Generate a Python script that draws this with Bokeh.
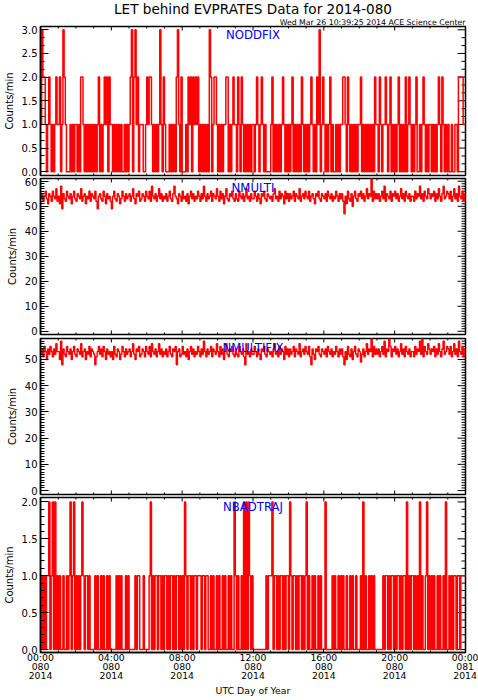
from bokeh.plotting import figure
from bokeh.models import Range1d, LinearAxis, FixedTicker, Label, PrintfTickFormatter, Title
from bokeh.layouts import column
from bokeh.embed import file_html
from bokeh.resources import INLINE

FONT = "DejaVu Sans"

TITLE = "LET behind EVPRATES Data for 2014-080"
SUBTITLE = "Wed Mar 26 10:39:25 2014 ACE Science Center"
PANEL_NAMES = ["NODDFIX", "NMULTI", "NMULTIFIX", "NBADTRAJ"]
Y_LABEL = "Counts/min"
X_LABEL = "UTC Day of Year"
X_TICKS = [0, 4, 8, 12, 16, 20, 24]
X_TICK_LABELS = ["00:00\n080\n2014", "04:00\n080\n2014", "08:00\n080\n2014",
                 "12:00\n080\n2014", "16:00\n080\n2014", "20:00\n080\n2014",
                 "00:00\n081\n2014"]
SAMPLE_MINUTES = 4  # one value per 4 minutes, 15 values per hour row

# NODDFIX counts/min, one string per UTC hour
NODDFIX = [
    "132210121010121", "120132100010101", "101022101010101", "010120101212021",
    "101010101001010", "123023120111001", "212210101013102", "100010101023102",
    "000102120212120", "101010103201221", "010101122010121", "102102101010101",
    "101210121010000", "120101010121010", "101201010102101", "010121010213012",
    "101012010010101", "122102101010101", "120101010101021", "102101121012010",
    "101201010201210", "101200101210101", "101010121021010", "100100110222211",
]

# NMULTI counts/min, one row per UTC hour
NMULTI = [
    [53, 55, 52, 54, 56, 53, 51, 55, 54, 52, 56, 54, 53, 57, 52],
    [54, 51, 58, 49, 55, 53, 52, 56, 54, 53, 55, 51, 54, 56, 53],
    [52, 55, 54, 53, 57, 52, 54, 55, 51, 54, 53, 56, 52, 55, 54],
    [53, 56, 52, 49, 54, 55, 53, 52, 56, 54, 51, 55, 53, 54, 52],
    [49, 54, 56, 53, 52, 55, 54, 51, 53, 56, 54, 52, 55, 53, 54],
    [55, 52, 54, 57, 53, 51, 55, 54, 56, 52, 53, 55, 54, 52, 56],
    [54, 53, 56, 52, 58, 54, 53, 55, 52, 54, 57, 53, 55, 52, 54],
    [53, 55, 52, 54, 56, 53, 52, 55, 58, 54, 53, 51, 55, 54, 52],
    [56, 53, 54, 52, 55, 51, 54, 56, 53, 55, 52, 54, 53, 56, 54],
    [52, 55, 53, 58, 54, 52, 55, 53, 54, 56, 52, 55, 54, 53, 57],
    [54, 52, 56, 53, 55, 51, 54, 57, 53, 52, 55, 54, 56, 53, 52],
    [55, 53, 52, 56, 54, 53, 55, 52, 54, 57, 53, 54, 52, 55, 53],
    [53, 56, 54, 52, 55, 53, 51, 55, 54, 56, 53, 52, 55, 54, 53],
    [54, 52, 55, 57, 53, 54, 52, 56, 53, 55, 54, 51, 56, 53, 55],
    [52, 55, 53, 54, 56, 52, 55, 54, 53, 57, 52, 54, 55, 53, 56],
    [54, 53, 56, 52, 54, 55, 53, 51, 55, 54, 56, 53, 52, 55, 54],
    [53, 55, 52, 56, 54, 53, 55, 52, 54, 53, 56, 54, 52, 55, 53],
    [55, 52, 47, 54, 51, 56, 53, 52, 55, 50, 54, 56, 53, 52, 55],
    [54, 56, 53, 55, 52, 54, 57, 53, 55, 54, 61, 52, 56, 53, 55],
    [53, 55, 52, 54, 56, 53, 58, 52, 55, 54, 53, 56, 52, 55, 54],
    [56, 53, 55, 52, 54, 57, 53, 55, 52, 56, 54, 53, 55, 52, 54],
    [54, 52, 56, 53, 55, 54, 58, 53, 55, 52, 56, 54, 53, 57, 55],
    [53, 55, 54, 56, 52, 55, 53, 57, 54, 52, 55, 58, 53, 54, 56],
    [55, 53, 56, 52, 54, 57, 53, 55, 52, 58, 54, 53, 56, 52, 55],
]

# NMULTIFIX counts/min, one row per UTC hour
NMULTIFIX = [
    [52, 54, 51, 55, 53, 50, 54, 52, 55, 53, 51, 54, 52, 56, 53],
    [53, 50, 57, 48, 54, 52, 51, 55, 53, 52, 54, 50, 53, 55, 52],
    [51, 54, 53, 52, 56, 51, 53, 54, 50, 53, 52, 55, 51, 54, 53],
    [52, 48, 51, 53, 55, 52, 54, 51, 55, 53, 50, 54, 52, 53, 51],
    [53, 50, 55, 52, 51, 54, 53, 50, 52, 55, 53, 51, 54, 52, 53],
    [54, 51, 53, 56, 52, 50, 54, 53, 55, 51, 52, 54, 53, 51, 55],
    [53, 52, 55, 51, 56, 53, 52, 54, 51, 53, 56, 52, 54, 51, 53],
    [52, 54, 51, 53, 55, 52, 51, 54, 53, 55, 48, 53, 54, 51, 52],
    [55, 52, 53, 51, 54, 50, 53, 55, 52, 54, 51, 53, 52, 55, 53],
    [51, 54, 52, 57, 53, 51, 54, 52, 53, 55, 51, 54, 53, 52, 56],
    [53, 51, 55, 52, 54, 50, 53, 56, 52, 51, 54, 53, 55, 52, 51],
    [54, 52, 51, 55, 53, 52, 54, 51, 48, 56, 52, 53, 51, 54, 52],
    [52, 55, 53, 51, 54, 52, 50, 54, 53, 55, 52, 51, 54, 53, 52],
    [53, 51, 54, 56, 52, 53, 51, 55, 52, 54, 53, 50, 55, 52, 54],
    [51, 54, 52, 53, 55, 51, 54, 53, 52, 56, 51, 53, 54, 52, 55],
    [53, 52, 55, 51, 48, 54, 52, 50, 54, 53, 55, 52, 51, 54, 53],
    [52, 54, 51, 55, 53, 52, 54, 51, 53, 52, 55, 53, 51, 54, 52],
    [54, 51, 48, 53, 50, 55, 52, 51, 54, 50, 53, 55, 52, 51, 54],
    [53, 49, 52, 54, 51, 53, 56, 52, 54, 53, 58, 51, 55, 52, 54],
    [52, 54, 51, 53, 55, 52, 57, 51, 54, 53, 58, 55, 51, 54, 53],
    [55, 52, 54, 51, 53, 56, 52, 54, 51, 55, 53, 52, 54, 51, 53],
    [53, 51, 55, 52, 54, 53, 57, 52, 58, 51, 55, 53, 52, 56, 54],
    [52, 54, 53, 55, 51, 54, 52, 56, 53, 51, 54, 57, 52, 53, 55],
    [54, 52, 55, 51, 53, 56, 52, 54, 51, 57, 53, 52, 55, 51, 54],
]

# NBADTRAJ counts/min, one string per UTC hour
NBADTRAJ = [
    "010101120120201", "010010010120120", "101012101101000", "010100101001010",
    "000010101000101", "000001011000100", "001201011011010", "110101101011010",
    "102101101011011", "101101100101001", "010010100101002", "101001020202101",
    "000000000001011", "120110101101011", "021011010110101", "201001010010100",
    "020000010100101", "010010010100100", "010201001010100", "000001011010110",
    "101101011020101", "101010201001201", "010100101001020", "010101101101111",
]


def flat_str(rows):
    return [int(c) for row in rows for c in row]


def flat_int(rows):
    return [v for row in rows for v in row]


def steps(vals):
    xs = [i * SAMPLE_MINUTES / 60.0 for i in range(len(vals))] + [24.0]
    ys = list(vals) + [vals[-1]]
    return xs, ys


def frange(start, stop, step):
    out = []
    k = 0
    while True:
        v = round(start + k * step, 6)
        if v > stop + 1e-9:
            break
        out.append(v)
        k += 1
    return out


X_MINOR = list(range(0, 25))
FRAME_W = 430
BORDER_L = 35
BORDER_R = 13


def style_axis(ax, tick_in, minor_in):
    ax.major_tick_in = tick_in
    ax.major_tick_out = 0
    ax.minor_tick_in = minor_in
    ax.minor_tick_out = 0
    ax.axis_line_color = "black"
    ax.axis_line_width = 1.5
    ax.major_tick_line_color = "black"
    ax.minor_tick_line_color = "black"
    ax.major_tick_line_width = 1
    ax.minor_tick_line_width = 1
    ax.major_label_text_font = FONT
    ax.major_label_text_color = "black"


def make_panel(name, vals, height, btop, bbot, frame_h, yr, yticks, yminor, fmt,
               bottom_labels, lw):
    p = figure(width=BORDER_L + FRAME_W + BORDER_R, height=height,
               x_range=Range1d(0, 24), y_range=Range1d(*yr),
               output_backend="svg", toolbar_location=None,
               x_axis_location=None, y_axis_location=None,
               min_border_left=BORDER_L, min_border_right=BORDER_R,
               min_border_top=btop, min_border_bottom=bbot)
    p.grid.visible = False
    p.outline_line_color = "black"
    p.outline_line_width = 1.5
    p.background_fill_color = "white"
    p.border_fill_color = "white"

    left = LinearAxis(ticker=FixedTicker(ticks=yticks, minor_ticks=yminor),
                      formatter=PrintfTickFormatter(format=fmt))
    style_axis(left, 8, 4)
    left.major_label_text_font_size = "10px"
    left.major_label_standoff = 3
    left.axis_label = Y_LABEL
    left.axis_label_standoff = 4
    left.axis_label_text_font = FONT
    left.axis_label_text_font_size = "10px"
    left.axis_label_text_font_style = "normal"
    left.axis_label_text_color = "black"
    p.add_layout(left, "left")

    if bottom_labels:
        bottom = LinearAxis(ticker=FixedTicker(ticks=X_TICKS, minor_ticks=X_MINOR))
        style_axis(bottom, 4, 2)
        bottom.major_label_overrides = {t: lab for t, lab in zip(X_TICKS, X_TICK_LABELS)}
        bottom.major_label_text_font_size = "9.3px"
        bottom.major_label_text_line_height = 0.85
        bottom.major_label_standoff = -1
        bottom.axis_label = X_LABEL
        bottom.axis_label_standoff = 1
        bottom.axis_label_text_font = FONT
        bottom.axis_label_text_font_size = "9.4px"
        bottom.axis_label_text_font_style = "normal"
        bottom.axis_label_text_color = "black"
        p.add_layout(bottom, "below")

    # mirrored inward ticks on the remaining frame edges
    per_px = (yr[1] - yr[0]) / frame_h
    xper = 24.0 / FRAME_W
    x0, y0, x1, y1 = [], [], [], []
    for t in X_MINOR:
        L = 4 if t in X_TICKS else 2
        x0.append(t); y0.append(yr[1]); x1.append(t); y1.append(yr[1] - L * per_px)
        if not bottom_labels:
            x0.append(t); y0.append(yr[0]); x1.append(t); y1.append(yr[0] + L * per_px)
    for v in sorted(set(yminor) | set(yticks)):
        L = 8 if v in yticks else 4
        x0.append(24); y0.append(v); x1.append(24 - L * xper); y1.append(v)
    p.segment(x0, y0, x1, y1, line_color="black", line_width=1)

    xs, ys = steps(vals)
    p.step(xs, ys, mode="after", line_color="#ff0000", line_width=lw)

    p.add_layout(Label(x=12, y=yr[1] - 9 * per_px, text=name, text_align="center",
                       text_baseline="middle", text_color="#0000ff",
                       text_font=FONT, text_font_size="11.7px"))
    return p


p1 = make_panel(PANEL_NAMES[0], flat_str(NODDFIX), 177, 25, 2, 150,
                (-0.08, 3.07), frange(0, 3, 0.5), frange(0, 3, 0.5 / 3), "%.1f", False, 1.5)
p1.add_layout(Title(text=SUBTITLE, align="right", text_font=FONT, text_font_size="7.8px",
                    text_font_style="normal", text_color="black", standoff=0), "above")
p1.add_layout(Title(text=TITLE, align="center", text_font=FONT, text_font_size="13.6px",
                    text_font_style="normal", text_color="black", standoff=-3), "above")

p2 = make_panel(PANEL_NAMES[1], flat_int(NMULTI), 160, 1, 3, 156,
                (-1.3, 61.1), frange(0, 60, 10), frange(0, 61, 1), "%d", False, 1.4)
p3 = make_panel(PANEL_NAMES[2], flat_int(NMULTIFIX), 159, 1, 2, 156,
                (-1.5, 58.0), frange(0, 50, 10), frange(0, 58, 1), "%d", False, 1.4)
p4 = make_panel(PANEL_NAMES[3], flat_str(NBADTRAJ), 204, 1, 48, 155,
                (-0.04, 2.06), frange(0, 2, 0.5), frange(0, 2, 0.1), "%.1f", True, 1.5)

layout = column(p1, p2, p3, p4, spacing=0)
open("out.html", "w").write(file_html(layout, INLINE))
